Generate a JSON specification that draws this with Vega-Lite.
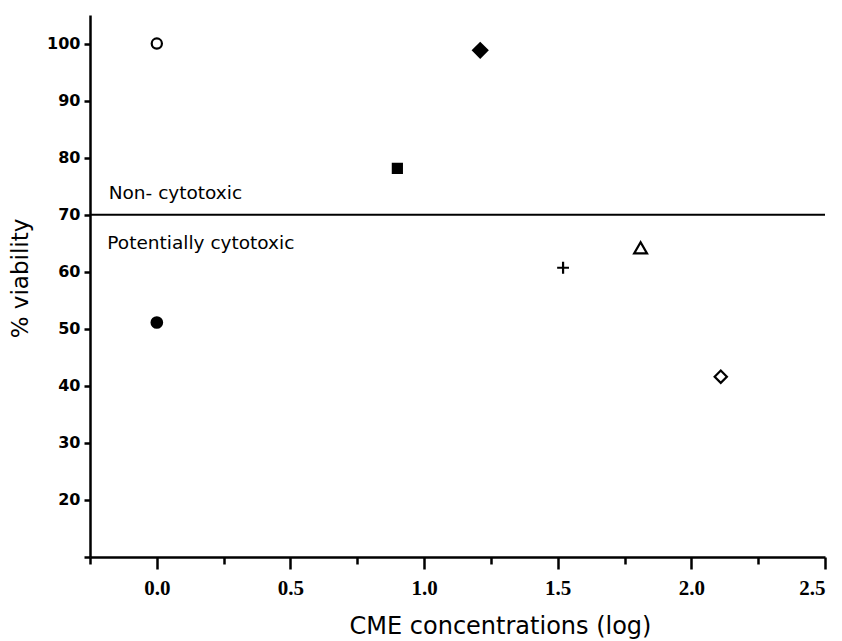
{
  "$schema": "https://vega.github.io/schema/vega-lite/v6.json",
  "width": 735,
  "height": 542,
  "autosize": {"type": "none"},
  "padding": {"left": 90, "top": 15, "right": 17, "bottom": 84},
  "background": "white",
  "config": {
    "view": {"stroke": null},
    "axis": {"grid": false, "domainColor": "black", "domainWidth": 2.5, "tickColor": "black", "tickWidth": 2.5, "labelColor": "black", "titleColor": "black"}
  },
  "datasets": {
    "points": [
      {"series": "A", "log_conc": 0.0, "viability": 100.0},
      {"series": "B", "log_conc": 0.0, "viability": 51.1},
      {"series": "C", "log_conc": 0.90, "viability": 78.1},
      {"series": "D", "log_conc": 1.21, "viability": 98.8},
      {"series": "E", "log_conc": 1.52, "viability": 60.7},
      {"series": "F", "log_conc": 1.81, "viability": 64.2},
      {"series": "G", "log_conc": 2.11, "viability": 41.6}
    ],
    "labels": [
      {"label": "Non- cytotoxic", "log_conc": -0.18, "viability": 72.8},
      {"label": "Potentially cytotoxic", "log_conc": -0.185, "viability": 64.0}
    ],
    "threshold": [{"viability": 70}]
  },
  "layer": [
    {
      "data": {"name": "threshold"},
      "mark": {"type": "rule", "color": "black", "strokeWidth": 2},
      "encoding": {
        "y": {"field": "viability", "type": "quantitative", "scale": {"domain": [10, 105]}}
      }
    },
    {
      "data": {"name": "labels"},
      "mark": {"type": "text", "align": "left", "baseline": "alphabetic", "font": "DejaVu Sans", "fontSize": 18.5, "color": "black"},
      "encoding": {
        "x": {"field": "log_conc", "type": "quantitative"},
        "y": {"field": "viability", "type": "quantitative"},
        "text": {"field": "label"}
      }
    },
    {
      "data": {"name": "points"},
      "mark": {"type": "point", "stroke": "black", "strokeWidth": 2.2, "opacity": 1, "filled": false},
      "encoding": {
        "x": {
          "field": "log_conc", "type": "quantitative",
          "scale": {"domain": [-0.25, 2.5], "nice": false, "zero": false},
          "axis": {
            "title": "CME concentrations (log)",
            "values": [-0.25, 0, 0.25, 0.5, 0.75, 1, 1.25, 1.5, 1.75, 2, 2.25, 2.5],
            "labelExpr": "abs(datum.value % 0.5) > 0.001 ? '' : format(datum.value, '.1f')",
            "tickSize": {"condition": {"test": "abs(datum.value % 0.5) > 0.001", "value": 7}, "value": 12},
            "labelFont": "Liberation Serif, Times New Roman, serif", "labelFontWeight": "bold", "labelFontSize": 21,
            "labelPadding": 8,
            "titleFont": "DejaVu Sans", "titleFontWeight": "normal", "titleFontSize": 24,
            "titlePadding": 16,
            "titleX": 410, "titleAlign": "center"
          }
        },
        "y": {
          "field": "viability", "type": "quantitative",
          "scale": {"domain": [10, 105], "nice": false, "zero": false},
          "axis": {
            "title": "% viability",
            "values": [10, 20, 30, 40, 50, 60, 70, 80, 90, 100],
            "labelExpr": "datum.value == 10 ? '' : datum.label",
            "tickSize": 6,
            "labelFont": "DejaVu Sans", "labelFontWeight": "bold", "labelFontSize": 16,
            "labelPadding": 4,
            "titleFont": "DejaVu Sans", "titleFontWeight": "normal", "titleFontSize": 23,
            "titlePadding": 14,
            "titleY": 263, "titleAlign": "center"
          }
        },
        "shape": {
          "field": "series", "type": "nominal", "legend": null,
          "scale": {"domain": ["A", "B", "C", "D", "E", "F", "G"], "range": ["circle", "circle", "square", "diamond", "M-1,0H1M0,-1V1", "triangle-up", "diamond"]}
        },
        "fill": {
          "field": "series", "type": "nominal", "legend": null,
          "scale": {"domain": ["A", "B", "C", "D", "E", "F", "G"], "range": ["white", "black", "black", "black", "white", "white", "white"]}
        },
        "size": {
          "field": "series", "type": "nominal", "legend": null,
          "scale": {"type": "ordinal", "domain": ["A", "B", "C", "D", "E", "F", "G"], "range": [105, 110, 81, 200, 140, 165, 150]}
        }
      }
    }
  ]
}
